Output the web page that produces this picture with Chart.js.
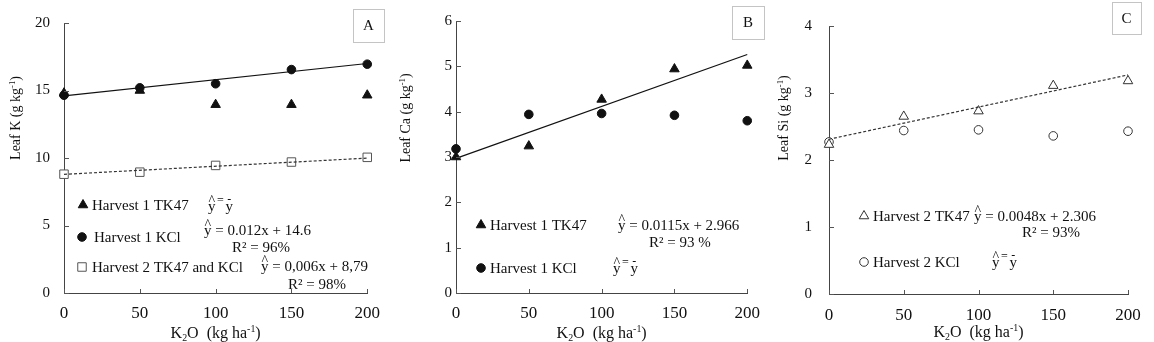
<!DOCTYPE html>
<html>
<head>
<meta charset="utf-8">
<script src="https://cdn.jsdelivr.net/npm/chart.js@4.4.1/dist/chart.umd.min.js"></script>
<style>
  body { margin: 0; background: #fff; width: 1154px; height: 342px; position: relative; overflow: hidden; }
  canvas { position: absolute; top: 0; }
</style>
</head>
<body>
<canvas id="chartA" width="390" height="342" style="left:0px"></canvas>
<canvas id="chartB" width="380" height="342" style="left:390px"></canvas>
<canvas id="chartC" width="384" height="342" style="left:770px"></canvas>
<script>
const doses = [0, 50, 100, 150, 200];
const fitX = [0, 200];

// panel A - leaf K
const kTk47H1 = [14.8, 15.0, 13.95, 13.95, 14.65];
const kKclH1 = [14.65, 15.2, 15.5, 16.55, 16.95];
const kH2 = [8.8, 8.95, 9.45, 9.7, 10.05];
const kKclFit = [14.6, 17.0];
const kH2Fit = [8.79, 9.99];

// panel B - leaf Ca
const caTk47H1 = [3.0, 3.24, 4.27, 4.94, 5.02];
const caKclH1 = [3.18, 3.94, 3.96, 3.92, 3.80];
const caTk47Fit = [2.97, 5.26];

// panel C - leaf Si
const siTk47H2 = [2.23, 2.65, 2.73, 3.11, 3.18];
const siKclH2 = [2.27, 2.44, 2.45, 2.36, 2.43];
const siTk47Fit = [2.31, 3.27];

const FONT = '"Liberation Serif", "Times New Roman", serif';
const INK = '#111';

function pts(ys, xs) {
    xs = xs || doses;
    return ys.map((v, i) => ({ x: xs[i], y: v }));
}

// draw a string with sub/superscript parts: [['K'],['2','sub'],['O']]
function richText(ctx, parts, x, y, size, align) {
    let total = 0;
    parts.forEach(p => {
        ctx.font = (p[1] ? size * 0.62 : size) + 'px ' + FONT;
        total += ctx.measureText(p[0]).width;
    });
    let cx = align === 'center' ? x - total / 2 : x;
    ctx.textAlign = 'left';
    ctx.textBaseline = 'alphabetic';
    parts.forEach(p => {
        const small = !!p[1];
        ctx.font = (small ? size * 0.62 : size) + 'px ' + FONT;
        let dy = 0;
        if (p[1] === 'sup') dy = -size * 0.38;
        if (p[1] === 'sub') dy = size * 0.2;
        ctx.fillText(p[0], cx, y + dy);
        cx += ctx.measureText(p[0]).width;
    });
}

// y with a hat, then the rest of the equation
function hatEq(ctx, x, y, rest) {
    ctx.fillStyle = INK;
    ctx.textAlign = 'left';
    ctx.textBaseline = 'middle';
    ctx.font = '15px ' + FONT;
    const w = ctx.measureText('y').width;
    ctx.fillText('y', x, y);
    ctx.fillText(rest, x + w, y);
    ctx.font = '14px ' + FONT;
    ctx.textAlign = 'center';
    ctx.fillText('^', x + w / 2, y - 6);
}

// y hat = y bar
function meanEq(ctx, x, y) {
    ctx.fillStyle = INK;
    ctx.textBaseline = 'middle';
    ctx.font = '15px ' + FONT;
    const w = ctx.measureText('y').width;
    ctx.textAlign = 'left';
    ctx.fillText('y', x, y);
    ctx.fillText('y', x + w + 10, y);
    ctx.font = '14px ' + FONT;
    ctx.textAlign = 'center';
    ctx.fillText('^', x + w / 2, y - 6);
    ctx.font = '12px ' + FONT;
    ctx.fillText('=', x + w + 5, y - 6);
    ctx.fillRect(x + w + 10 + w / 2 - 1.5, y - 8, 3, 1);
}

const panelDeco = {
    id: 'panelDeco',
    afterDraw(chart, args, opts) {
        const ctx = chart.ctx;
        const area = chart.chartArea;
        const xs = chart.scales.x, ys = chart.scales.y;
        ctx.save();

        // inward tick marks
        ctx.strokeStyle = '#555';
        ctx.lineWidth = 1;
        ctx.beginPath();
        xs.ticks.forEach(t => {
            const px = Math.round(xs.getPixelForValue(t.value)) + 0.5;
            ctx.moveTo(px, area.bottom);
            ctx.lineTo(px, area.bottom - 4);
        });
        ys.ticks.forEach(t => {
            const py = Math.round(ys.getPixelForValue(t.value)) + 0.5;
            ctx.moveTo(area.left, py);
            ctx.lineTo(area.left + 5, py);
        });
        ctx.stroke();

        // y title (rotated)
        ctx.fillStyle = INK;
        ctx.save();
        ctx.translate(opts.yTitleX, 118);
        ctx.rotate(-Math.PI / 2);
        richText(ctx, opts.yTitle, 0, 5, 14, 'center');
        ctx.restore();

        // x title
        richText(ctx, [['K'], ['2', 'sub'], ['O  (kg ha'], ['-1', 'sup'], [')']],
            (area.left + area.right) / 2, opts.xTitleY, 16, 'center');

        // panel letter box
        const b = opts.box;
        ctx.strokeStyle = '#c4c4c4';
        ctx.strokeRect(b[0] + 0.5, b[1] + 0.5, b[2], b[3]);
        ctx.font = '15px ' + FONT;
        ctx.textAlign = 'center';
        ctx.textBaseline = 'middle';
        ctx.fillText(opts.letter, b[0] + b[2] / 2, b[1] + b[3] / 2 + 1);

        // legend rows
        opts.legend.forEach(row => {
            const ds = chart.data.datasets[row.ds];
            ctx.fillStyle = ds.pointBackgroundColor;
            ctx.strokeStyle = ds.pointBorderColor;
            ctx.lineWidth = 1;
            Chart.helpers.drawPoint(ctx, {
                pointStyle: ds.pointStyle,
                radius: row.r || ds.pointRadius,
                rotation: 0,
                borderWidth: 1
            }, row.mx, row.y);
            ctx.fillStyle = INK;
            ctx.font = '15px ' + FONT;
            ctx.textAlign = 'left';
            ctx.textBaseline = 'middle';
            ctx.fillText(ds.label, row.lx, row.y + 1);
            if (row.eq) hatEq(ctx, row.ex, row.ey, row.eq);
            if (row.mean) meanEq(ctx, row.ex, row.ey);
            if (row.r2) {
                ctx.font = '15px ' + FONT;
                ctx.textAlign = 'left';
                ctx.textBaseline = 'middle';
                ctx.fillText(row.r2, row.rx, row.ry);
            }
        });
        ctx.restore();
    }
};

function makeScales(cfg) {
    return {
        x: {
            type: 'linear',
            min: 0, max: 200,
            ticks: { stepSize: 50, padding: cfg.xPad, color: INK, font: { family: FONT, size: 17 } },
            grid: { display: false, drawTicks: false },
            border: { display: true, color: '#444', width: 1 },
            afterFit(scale) { scale.height = cfg.xHeight; }
        },
        y: {
            type: 'linear',
            min: 0, max: cfg.yMax,
            ticks: { stepSize: cfg.yStep, padding: cfg.yPad, color: INK, font: { family: FONT, size: 15 } },
            grid: { display: false, drawTicks: false },
            border: { display: true, color: '#444', width: 1 },
            afterFit(scale) { scale.width = cfg.yWidth; }
        }
    };
}

function markerSet(label, data, style, fill, stroke, r) {
    return {
        type: 'scatter', label: label, data: data, clip: false,
        pointStyle: style, pointRadius: r, pointHoverRadius: r,
        pointBackgroundColor: fill, pointBorderColor: stroke, pointBorderWidth: 1,
        showLine: false
    };
}

function fitSet(data, color, dash) {
    return {
        type: 'line', label: 'fit', data: data, clip: false,
        borderColor: color, borderWidth: 1.2, borderDash: dash || [],
        pointRadius: 0, fill: false, tension: 0
    };
}

function baseOptions(cfg, deco) {
    return {
        responsive: false,
        animation: false,
        layout: { padding: { top: cfg.top, right: cfg.right, left: 0, bottom: 0 } },
        plugins: { legend: { display: false }, tooltip: { enabled: false }, panelDeco: deco },
        scales: makeScales(cfg)
    };
}

// Panel A
new Chart(document.getElementById('chartA'), {
    data: {
        datasets: [
            fitSet(pts(kKclFit, fitX), '#111'),
            fitSet(pts(kH2Fit, fitX), '#333', [3, 2]),
            markerSet('Harvest 1 TK47', pts(kTk47H1), 'triangle', '#111', '#111', 5.5),
            markerSet('Harvest 1 KCl', pts(kKclH1), 'circle', '#111', '#111', 4.3),
            markerSet('Harvest 2 TK47 and KCl', pts(kH2), 'rect', '#fff', '#555', 6)
        ]
    },
    options: baseOptions(
        { top: 22, right: 18, xHeight: 49, yWidth: 64, yMax: 20, yStep: 5, yPad: 14, xPad: 10 },
        {
            yTitleX: 15, xTitleY: 338, letter: 'A', box: [353, 9, 31, 33],
            yTitle: [['Leaf K (g kg'], ['-1', 'sup'], [')']],
            legend: [
                { ds: 2, mx: 83, lx: 92, y: 205, mean: true, ex: 208, ey: 207 },
                { ds: 3, mx: 82, lx: 94, y: 237, eq: ' = 0.012x + 14.6', ex: 204, ey: 231, r2: 'R² = 96%', rx: 232, ry: 248 },
                { ds: 4, mx: 82, lx: 92, y: 267, eq: ' = 0,006x + 8,79', ex: 261, ey: 267, r2: 'R² = 98%', rx: 288, ry: 285 }
            ]
        }),
    plugins: [panelDeco]
});

// Panel B
new Chart(document.getElementById('chartB'), {
    data: {
        datasets: [
            fitSet(pts(caTk47Fit, fitX), '#111'),
            markerSet('Harvest 1 TK47', pts(caTk47H1), 'triangle', '#111', '#111', 5.5),
            markerSet('Harvest 1 KCl', pts(caKclH1), 'circle', '#111', '#111', 4.3)
        ]
    },
    options: baseOptions(
        { top: 21, right: 16, xHeight: 49, yWidth: 66, yMax: 6, yStep: 1, yPad: 4, xPad: 10 },
        {
            yTitleX: 15, xTitleY: 338, letter: 'B', box: [342, 6, 32, 33],
            yTitle: [['Leaf Ca (g kg'], ['-1', 'sup'], [')']],
            legend: [
                { ds: 1, mx: 91, lx: 100, y: 225, eq: ' = 0.0115x + 2.966', ex: 228, ey: 226, r2: 'R² = 93 %', rx: 259, ry: 243 },
                { ds: 2, mx: 91, lx: 100, y: 268, mean: true, ex: 223, ey: 269 }
            ]
        }),
    plugins: [panelDeco]
});

// Panel C
new Chart(document.getElementById('chartC'), {
    data: {
        datasets: [
            fitSet(pts(siTk47Fit, fitX), '#333', [3, 2]),
            markerSet('Harvest 2 TK47', pts(siTk47H2), 'triangle', '#fff', '#333', 5.5),
            markerSet('Harvest 2 KCl', pts(siKclH2), 'circle', '#fff', '#333', 4.3)
        ]
    },
    options: baseOptions(
        { top: 23, right: 26, xHeight: 48, yWidth: 59, yMax: 4, yStep: 1, yPad: 17, xPad: 11 },
        {
            yTitleX: 13, xTitleY: 337, letter: 'C', box: [342, 2, 29, 32],
            yTitle: [['Leaf Si (g kg'], ['-1', 'sup'], [')']],
            legend: [
                { ds: 1, mx: 94, lx: 103, y: 216, eq: ' = 0.0048x + 2.306', ex: 204, ey: 217, r2: 'R² = 93%', rx: 252, ry: 233 },
                { ds: 2, mx: 94, lx: 103, y: 262, mean: true, ex: 222, ey: 263 }
            ]
        }),
    plugins: [panelDeco]
});
</script>
</body>
</html>
